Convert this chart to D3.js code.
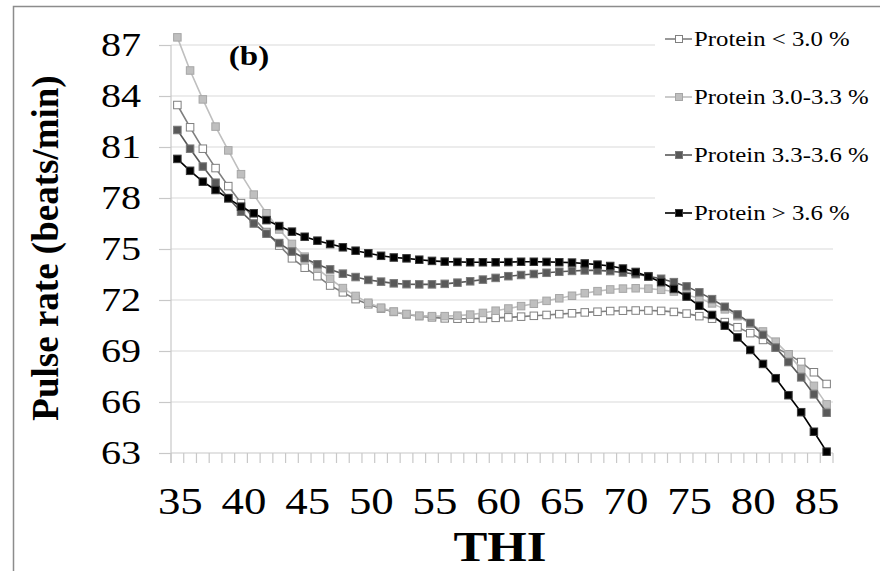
<!DOCTYPE html>
<html><head><meta charset="utf-8">
<script src="https://cdn.jsdelivr.net/npm/d3@7/dist/d3.min.js"></script>
<style>body{margin:0;background:#fff}svg{display:block}</style>
</head><body>
<svg id="chart" width="880" height="571"></svg>
<script>
const categories = d3.range(35, 87); // THI 35..86
const xTickLabels = [35,40,45,50,55,60,65,70,75,80,85];
const yTicks = [63,66,69,72,75,78,81,84,87];
const seriesNames = ["Protein < 3.0 %","Protein 3.0-3.3 %","Protein 3.3-3.6 %","Protein > 3.6 %"];

const protLow = [83.47,82.16,80.9,79.76,78.7,77.7,76.8,76.0,75.2,74.45,
  73.9,73.4,72.85,72.45,72.05,71.75,71.5,71.3,71.15,71.05,
  70.98,70.92,70.9,70.9,70.92,70.95,70.98,71.02,71.07,71.12,
  71.17,71.22,71.27,71.31,71.35,71.37,71.38,71.38,71.36,71.3,
  71.2,71.05,70.9,70.7,70.4,70.05,69.65,69.2,68.8,68.35,
  67.75,67.06];
const prot3033 = [87.45,85.5,83.8,82.2,80.8,79.4,78.2,77.1,76.15,75.3,
  74.55,73.85,73.25,72.7,72.24,71.84,71.55,71.32,71.18,71.08,
  71.05,71.05,71.08,71.14,71.24,71.37,71.5,71.64,71.78,71.95,
  72.1,72.25,72.4,72.52,72.62,72.67,72.69,72.67,72.6,72.5,
  72.3,72.1,71.8,71.45,71.05,70.6,70.15,69.55,68.8,67.95,
  66.95,65.86];
const prot3336 = [82.0,80.9,79.85,78.9,78.0,77.2,76.5,75.9,75.35,74.85,
  74.45,74.1,73.8,73.55,73.35,73.18,73.08,72.98,72.93,72.92,
  72.92,72.95,73.02,73.1,73.2,73.3,73.4,73.47,73.53,73.6,
  73.66,73.71,73.74,73.74,73.7,73.62,73.52,73.4,73.25,73.05,
  72.8,72.45,72.05,71.6,71.15,70.65,69.95,69.2,68.35,67.45,
  66.45,65.37];
const protHigh = [80.3,79.6,78.96,78.47,77.98,77.49,77.1,76.7,76.35,76.02,
  75.72,75.49,75.29,75.1,74.9,74.75,74.6,74.5,74.45,74.37,
  74.3,74.26,74.24,74.22,74.22,74.22,74.23,74.25,74.25,74.24,
  74.22,74.2,74.15,74.08,74.0,73.85,73.65,73.38,73.05,72.65,
  72.2,71.66,71.12,70.49,69.8,69.06,68.24,67.4,66.4,65.4,
  64.25,63.08];

const seriesValues = [protLow, prot3033, prot3336, protHigh];
const styles = [
  {line:"#7f7f7f", fill:"#ffffff", stroke:"#7f7f7f"},
  {line:"#bfbfbf", fill:"#bfbfbf", stroke:"#a6a6a6"},
  {line:"#595959", fill:"#595959", stroke:"#7a7a7a"},
  {line:"#000000", fill:"#000000", stroke:"#3a3a3a"}
];

// pick an installed Times-like serif
function pickFont(cands){
  const c = document.createElement("canvas").getContext("2d");
  const s = "Protein 0123456789 THI (b)";
  for (const f of cands){
    for (const base of ["monospace","sans-serif"]){
      c.font = `40px ${base}`; const w0 = c.measureText(s).width;
      c.font = `40px "${f}", ${base}`; const w1 = c.measureText(s).width;
      if (Math.abs(w1-w0) > 0.5) return `"${f}", serif`;
    }
  }
  return "serif";
}
const SERIF = pickFont(["Liberation Serif","Times New Roman","Tinos","Nimbus Roman","Nimbus Roman No9 L","FreeSerif","DejaVu Serif"]);
const SX = 1.18;

const svg = d3.select("#chart");

// outer frame
svg.append("rect").attr("x",13.5).attr("y",6.5).attr("width",900).attr("height",600)
  .attr("fill","none").attr("stroke","#8c8c8c").attr("stroke-width",1.5);

const x = d3.scaleBand().domain(categories).range([171, 833]).padding(0);
const y = d3.scaleLinear().domain([63, 87]).range([453, 45]);
const cx = d => x(d) + x.bandwidth()/2;

// gridlines
svg.append("g").selectAll("line").data(yTicks.filter(t => t !== 63)).join("line")
  .attr("x1",171).attr("x2",833).attr("y1",d=>y(d)).attr("y2",d=>y(d))
  .attr("stroke","#d9d9d9").attr("stroke-width",1.2);

// y axis
const yAxis = svg.append("g").attr("transform","translate(171,0)")
  .call(d3.axisLeft(y).tickValues(yTicks).tickSize(12).tickFormat(""));
yAxis.select(".domain").attr("stroke","#c8c8c8").attr("stroke-width",1.2).attr("d","M0,45V463");
yAxis.selectAll(".tick line").attr("stroke","#c8c8c8").attr("stroke-width",1.2);

// y tick labels (stretched text)
svg.append("g").selectAll("text").data(yTicks).join("text")
  .attr("transform", d => `translate(141,${y(d)+11}) scale(${SX},1)`)
  .attr("text-anchor","end").attr("font-family",SERIF).attr("font-size",34)
  .attr("fill","#000").text(d=>d);

// x axis
const xAxis = svg.append("g").attr("transform","translate(0,453)");
xAxis.append("line").attr("x1",171).attr("x2",833).attr("y1",0).attr("y2",0)
  .attr("stroke","#c8c8c8").attr("stroke-width",1.2);
xAxis.selectAll("line.tk").data(categories.concat([null])).join("line").attr("class","tk")
  .attr("x1", d => d===null ? x.range()[1] : x(d))
  .attr("x2", d => d===null ? x.range()[1] : x(d))
  .attr("y1",0).attr("y2",10).attr("stroke","#c8c8c8").attr("stroke-width",1.2);
svg.append("g").selectAll("text").data(xTickLabels).join("text")
  .attr("transform", d => `translate(${cx(d)+3},${514}) scale(${SX},1)`)
  .attr("text-anchor","middle").attr("font-family",SERIF).attr("font-size",38)
  .attr("fill","#000").text(d=>d);

// axis titles
svg.append("text").attr("transform",`translate(58,248) rotate(-90)`)
  .attr("text-anchor","middle").attr("font-family",SERIF).attr("font-weight","bold")
  .attr("font-size",37).text("Pulse rate (beats/min)");
svg.append("text").attr("transform",`translate(500,561) scale(${SX},1)`)
  .attr("text-anchor","middle").attr("font-family",SERIF).attr("font-weight","bold")
  .attr("font-size",43).text("THI");

// panel label
svg.append("text").attr("transform",`translate(249,65) scale(${SX},1)`)
  .attr("text-anchor","middle").attr("font-family",SERIF).attr("font-weight","bold")
  .attr("font-size",28).text("(b)");

// legend background (covers gridlines)
svg.append("rect").attr("x",655).attr("y",14).attr("width",225).attr("height",220).attr("fill","#fff");

// series
const line = d3.line().x((d,i)=>cx(categories[i])).y(d=>y(d));
const MS = 7.5;
seriesValues.forEach((vals, si) => {
  const g = svg.append("g");
  g.append("path").datum(vals).attr("d", line).attr("fill","none")
    .attr("stroke", styles[si].line).attr("stroke-width",1.6);
  g.selectAll("rect").data(vals).join("rect")
    .attr("x",(d,i)=>cx(categories[i])-MS/2).attr("y",d=>y(d)-MS/2)
    .attr("width",MS).attr("height",MS)
    .attr("fill",styles[si].fill).attr("stroke",styles[si].stroke).attr("stroke-width",1);
});

// legend
const legY = [39, 97, 155, 213];
seriesNames.forEach((name, i) => {
  const g = svg.append("g").attr("transform",`translate(0,${legY[i]})`);
  g.append("line").attr("x1",665).attr("x2",692).attr("y1",0).attr("y2",0)
    .attr("stroke",styles[i].line).attr("stroke-width",1.6);
  g.append("rect").attr("x",679-3.5).attr("y",-3.5).attr("width",7).attr("height",7)
    .attr("fill",styles[i].fill).attr("stroke",styles[i].stroke).attr("stroke-width",1);
  g.append("text").attr("transform",`translate(694,7) scale(${SX},1)`)
    .attr("font-family",SERIF).attr("font-size",21).attr("fill","#000").text(name);
});
</script>
</body></html>
